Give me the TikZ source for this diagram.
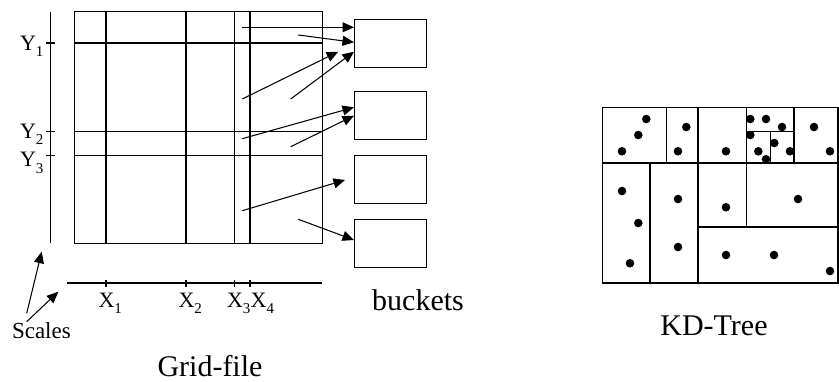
\documentclass[tikz,border=0pt]{standalone}
\usepackage{fontspec}
\setmainfont{Liberation Serif}
\usetikzlibrary{arrows.meta}
\newcommand{\lab}[2]{#1\raisebox{-6.5pt}{\fontsize{15}{15}\selectfont #2}}
\begin{document}
\begin{tikzpicture}[x=1pt,y=-1pt, line width=1.05pt,
  arr/.style={-{Triangle[length=11.5pt,width=10pt]}},
  lbl/.style={inner sep=0pt, anchor=base west, font=\fontsize{22}{22}\selectfont},
  big/.style={inner sep=0pt, anchor=base, font=\fontsize{30}{30}\selectfont},
  bucket/.style={draw, minimum width=72pt, minimum height=48pt, inner sep=0pt, anchor=north west}]
\useasboundingbox (0,0) rectangle (839,381);

% ---------- Grid file ----------
\node[draw, minimum width=248pt, minimum height=232pt, inner sep=0pt, anchor=north west] (grid) at (74,11) {};
\foreach \x in {106,186,234.3,250} \draw (\x,11) -- (\x,243);
\foreach \y in {43,131.3,155.3} \draw (74,\y) -- (322,\y);

% Y scale
\coordinate (ys1) at (50.3,12);
\coordinate (ys2) at (50.3,243);
\draw (ys1) -- (ys2);
\foreach \y in {43,131.3,155.3} \draw (46,\y) -- (54.5,\y);
\node[lbl] (y1) at (19.5,50) {\lab{Y}{1}};
\node[lbl] (y2) at (19.5,138.3) {\lab{Y}{2}};
\node[lbl] (y3) at (19.5,166.7) {\lab{Y}{3}};

% X scale
\coordinate (xs1) at (67,283);
\coordinate (xs2) at (322,283);
\draw (xs1) -- (xs2);
\foreach \x in {106,186,234.3,250} \draw (\x,279.5) -- (\x,287);
\node[lbl] (x1) at (98,307) {\lab{X}{1}};
\node[lbl] (x2) at (178,307) {\lab{X}{2}};
\node[lbl] (x3) at (226.5,307) {\lab{X}{3}};
\node[lbl] (x4) at (250.2,307) {\lab{X}{4}};

% Scales
\node[inner sep=0pt, anchor=base west, font=\fontsize{23}{23}\selectfont] (scales) at (11.5,338) {Scales};
\coordinate (sa1) at (26.7,313.3);
\coordinate (sa2) at (26.7,321.7);
\coordinate (st1) at (41.7,251.7);
\coordinate (st2) at (58.3,291.7);
\draw[arr] (sa1) -- (st1);
\draw[arr] (sa2) -- (st2);

% Buckets
\node[bucket] (b1) at (354,19) {};
\node[bucket] (b2) at (354,91) {};
\node[bucket] (b3) at (354,155) {};
\node[bucket] (b4) at (354,219) {};

\draw[arr] (242.3,27.3) -- (354,27.3);
\draw[arr] (298.3,35) -- (354,42.3);
\draw[arr] (242.3,99) -- (338.3,51.7);
\draw[arr] (290.7,99) -- (354,51.7);
\draw[arr] (242.3,138.7) -- (354,107.3);
\draw[arr] (290.7,146.7) -- (354,115.7);
\draw[arr] (242.3,210.7) -- (345,180);
\draw[arr] (298.3,219.3) -- (354,240);

\node[big] (buckets) at (418,310) {buckets};
\node[big] (gridfile) at (210,376) {Grid-file};

% ---------- KD tree ----------
\draw (602.3,107.3) rectangle (838,283);
\draw (602.3,163) -- (838,163);
\draw (666.3,107.3) -- (666.3,163);
\draw (698,107.3) -- (698,283);
\draw (746.3,107.3) -- (746.3,227);
\draw (794,107.3) -- (794,163);
\draw (650,163) -- (650,283);
\draw (698,227) -- (838,227);
\draw (746.3,131.3) -- (794,131.3);
\draw (770.3,131.3) -- (770.3,163);

\foreach \p in {(646.3,119),(638.3,135),(622,151.3),(686.3,127),(678,151.3),(726,151.3),
  (750.3,119),(766,119),(782,127),(750.3,135),(774.3,143),(758.3,151.3),(790,151.3),(766,159.3),
  (814,127),(830,151.3),(622,191),(638.3,223),(630,263.3),(678,199),(678,247),(726,207.3),
  (798,199),(726,255),(774,255),(830,271)}
  \fill \p circle[radius=4.3pt];

\node[big] (kd) at (714,335) {KD-Tree};
\end{tikzpicture}
\end{document}
